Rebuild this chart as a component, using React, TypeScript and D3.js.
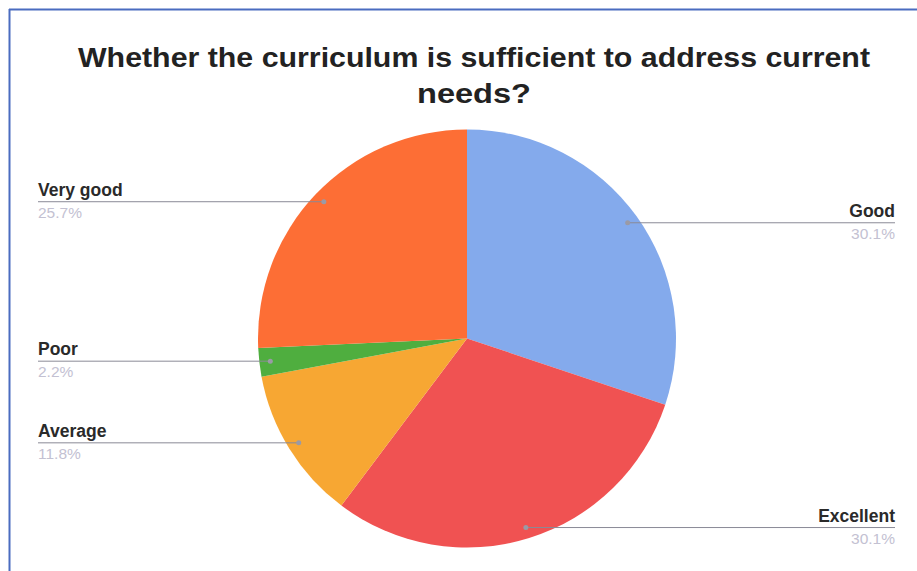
import React from "react";
import * as d3 from "d3";

const categories = ["Good", "Excellent", "Average", "Poor", "Very good"];
const values = [30.1, 30.1, 11.8, 2.2, 25.7];
const percentLabels = ["30.1%", "30.1%", "11.8%", "2.2%", "25.7%"];
const colors = ["#84aaec", "#f05252", "#f7a733", "#4fae3f", "#fd6e35"];
const titleLines = ["Whether the curriculum is sufficient to address current", "needs?"];
const titleWidths = [792, 114];

const W = 917;
const H = 571;
const cx = 467;
const cy = 338.5;
const R = 209;

export default function App() {
  const pie = d3.pie<number>().sort(null).value((d) => d);
  const arcs = pie(values);
  const arcGen = d3.arc<d3.PieArcDatum<number>>().innerRadius(0).outerRadius(R);
  const anchorGen = d3.arc<d3.PieArcDatum<number>>().innerRadius(R - 11).outerRadius(R - 11);
  const font = "'Liberation Sans', Arial, sans-serif";
  return (
    <svg width={W} height={H} style={{ position: "absolute", left: 0, top: 0, background: "#fff" }}>
      <rect x={0} y={0} width={W} height={H} fill="#fff" />
      <line x1={9} y1={9.5} x2={W} y2={9.5} stroke="#4a6cc0" strokeWidth={2} />
      <line x1={9.5} y1={9} x2={9.5} y2={H} stroke="#4a6cc0" strokeWidth={2} />
      {titleLines.map((t, i) => (
        <text
          key={i}
          x={474}
          y={67 + i * 36}
          textAnchor="middle"
          fontFamily={font}
          fontWeight="bold"
          fontSize={28}
          fill="#222"
          textLength={titleWidths[i]}
          lengthAdjust="spacingAndGlyphs"
        >
          {t}
        </text>
      ))}
      <g transform={`translate(${cx},${cy})`}>
        {arcs.map((a, i) => (
          <path key={i} d={arcGen(a) || ""} fill={colors[i]} />
        ))}
      </g>
      {arcs.map((a, i) => {
        const [ax, ay] = anchorGen.centroid(a);
        const px = cx + ax;
        const py = cy + ay;
        const right = ax > 0;
        const ex = right ? 895 : 38;
        return (
          <g key={i}>
            <line x1={px} y1={py} x2={ex} y2={py} stroke="#8a8a96" strokeWidth={1} />
            <circle cx={px} cy={py} r={2.5} fill="#9a9aa6" />
            <text x={ex} y={py - 6} textAnchor={right ? "end" : "start"} fontFamily={font} fontWeight="bold" fontSize={17.5} fill="#2a2a2a">
              {categories[i]}
            </text>
            <text x={ex} y={py + 16} textAnchor={right ? "end" : "start"} fontFamily={font} fontSize={15.5} fill="#c3c1d2">
              {percentLabels[i]}
            </text>
          </g>
        );
      })}
    </svg>
  );
}
